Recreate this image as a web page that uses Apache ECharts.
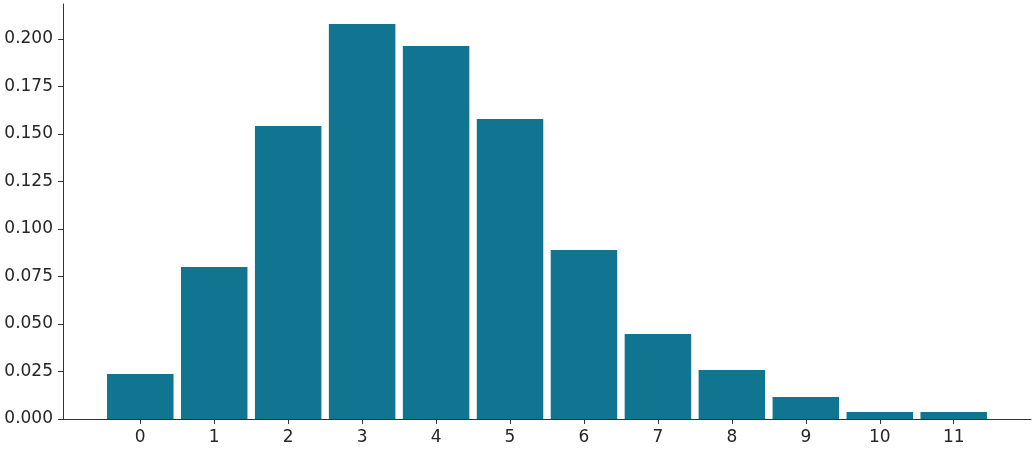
<!DOCTYPE html>
<html>
<head>
<meta charset="utf-8">
<script src="https://cdn.jsdelivr.net/npm/echarts@6/dist/echarts.min.js"></script>
<style>html,body{margin:0;padding:0;background:#fff;}#c{width:1035px;height:450px;}</style>
</head>
<body>
<div id="c"></div>
<script>
const categories = [0, 1, 2, 3, 4, 5, 6, 7, 8, 9, 10, 11];
const values = [0.0237, 0.0800, 0.1542, 0.2079, 0.1963, 0.1579, 0.0889, 0.0447, 0.0258, 0.0116, 0.0037, 0.0037];
const yTicks = [0, 0.025, 0.05, 0.075, 0.1, 0.125, 0.15, 0.175, 0.2];

const chart = echarts.init(document.getElementById('c'), null, {renderer: 'canvas'});
const textColor = '#262626';
const lineColor = '#333333';
const font = 'DejaVu Sans';
chart.setOption({
  animation: false,
  grid: {left: 63, right: 4, top: 4, bottom: 31, containLabel: false},
  xAxis: {
    type: 'value',
    min: -1.045,
    max: 12.045,
    splitLine: {show: false},
    axisLine: {show: true, onZero: false, lineStyle: {color: lineColor, width: 1}},
    axisTick: {show: true, length: 5, lineStyle: {color: lineColor}, customValues: categories},
    axisLabel: {show: true, customValues: categories, color: textColor, fontFamily: font, fontSize: 17, margin: 10,
      formatter: v => String(Math.round(v))}
  },
  yAxis: {
    type: 'value',
    min: 0,
    max: 0.2184,
    splitLine: {show: false},
    axisLine: {show: true, onZero: false, lineStyle: {color: lineColor, width: 1}},
    axisTick: {show: true, length: 5, lineStyle: {color: lineColor}, customValues: yTicks},
    axisLabel: {show: true, customValues: yTicks, color: textColor, fontFamily: font, fontSize: 17, margin: 10,
      padding: [3, 0, 0, 0], formatter: v => v.toFixed(3)}
  },
  series: [{
    type: 'bar',
    data: categories.map((c, i) => [c, values[i]]),
    barWidth: 66.5,
    itemStyle: {color: '#117591'}
  }]
});
</script>
</body>
</html>
